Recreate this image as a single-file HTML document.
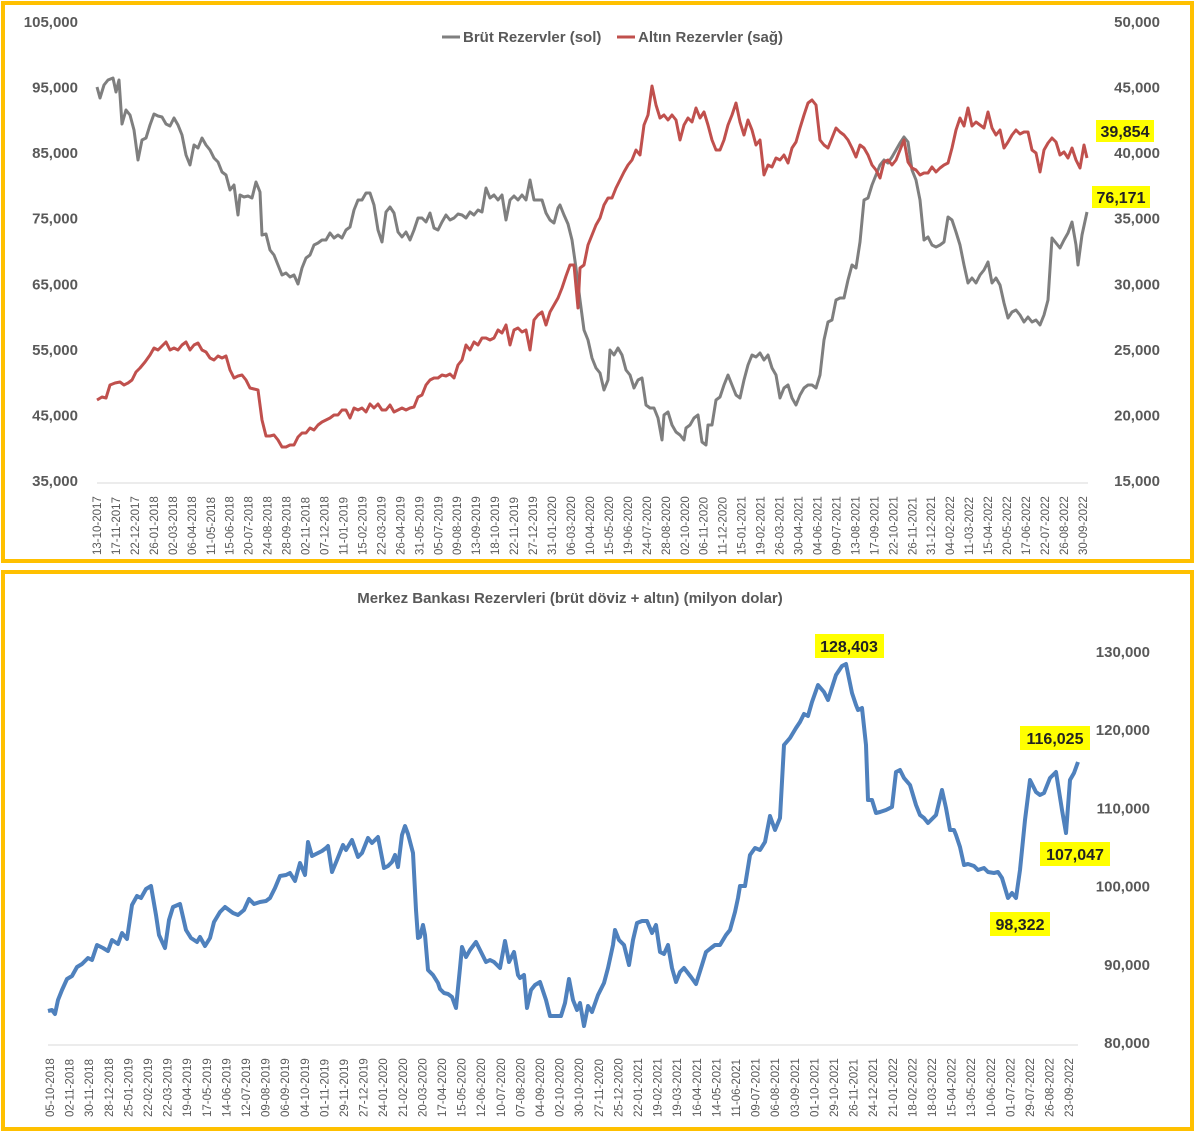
<!DOCTYPE html>
<html><head><meta charset="utf-8">
<style>
html,body{margin:0;padding:0;background:#fff;}
svg{display:block;font-family:"Liberation Sans",sans-serif;}
.t{fill:#595959;font-weight:bold;font-size:15px;}
.d{fill:#595959;font-size:11.5px;}
.h{font-weight:bold;font-size:16px;fill:#222;}
</style></head><body>
<svg id="s" width="1200" height="1136" viewBox="0 0 1200 1136">
<rect x="3" y="3" width="1189" height="558" fill="none" stroke="#FFC000" stroke-width="4"/>
<rect x="3" y="572" width="1189" height="557" fill="none" stroke="#FFC000" stroke-width="4"/>
<line x1="97" y1="483" x2="1088" y2="483" stroke="#d9d9d9" stroke-width="1"/>
<line x1="48" y1="1045" x2="1078" y2="1045" stroke="#d9d9d9" stroke-width="1"/>
<g id="g"></g>
<line x1="442" y1="37" x2="460" y2="37" stroke="#7f7f7f" stroke-width="3"/>
<text x="463" y="42" class="t">Brüt Rezervler (sol)</text>
<line x1="617" y1="37" x2="635" y2="37" stroke="#c0504d" stroke-width="3"/>
<text x="638" y="42" class="t">Altın Rezervler (sağ)</text>
<text x="570" y="603" class="t" text-anchor="middle">Merkez Bankası Rezervleri (brüt döviz + altın) (milyon dolar)</text>
<polyline id="gray" fill="none" stroke="#7f7f7f" stroke-width="3" stroke-linejoin="round"/>
<polyline id="red" fill="none" stroke="#c0504d" stroke-width="3" stroke-linejoin="round"/>
<polyline id="blue" fill="none" stroke="#4f81bd" stroke-width="4" stroke-linejoin="round"/>
<rect x="1096" y="120" width="58" height="22" fill="#ffff00"/><text x="1125" y="137" class="h" text-anchor="middle">39,854</text>
<rect x="1092" y="186" width="58" height="22" fill="#ffff00"/><text x="1121" y="203" class="h" text-anchor="middle">76,171</text>
<rect x="815" y="634" width="69" height="24" fill="#ffff00"/><text x="849" y="652" class="h" text-anchor="middle">128,403</text>
<rect x="1020" y="726" width="70" height="24" fill="#ffff00"/><text x="1055" y="744" class="h" text-anchor="middle">116,025</text>
<rect x="1040" y="842" width="70" height="24" fill="#ffff00"/><text x="1075" y="860" class="h" text-anchor="middle">107,047</text>
<rect x="990" y="912" width="60" height="24" fill="#ffff00"/><text x="1020" y="930" class="h" text-anchor="middle">98,322</text>
</svg>
<script>
(function(){
var ns="http://www.w3.org/2000/svg",g=document.getElementById("g");
function T(x,y,s,c,a,r){var t=document.createElementNS(ns,"text");t.setAttribute("x",x);t.setAttribute("y",y);t.setAttribute("class",c);if(a)t.setAttribute("text-anchor",a);if(r)t.setAttribute("transform","rotate(-90 "+x+" "+y+")");t.textContent=s;g.appendChild(t);}
function f(n){return n.toLocaleString("en-US");}
for(var i=0;i<8;i++){var y=22+i*65.57+5;T(78,y,f(105000-i*10000),"t","end");T(1160,y,f(50000-i*5000),"t","end");}
for(var i=0;i<6;i++){var y=652+i*78.2+5;T(1150,y,f(130000-i*10000),"t","end");}
var topL="13-10-2017,17-11-2017,22-12-2017,26-01-2018,02-03-2018,06-04-2018,11-05-2018,15-06-2018,20-07-2018,24-08-2018,28-09-2018,02-11-2018,07-12-2018,11-01-2019,15-02-2019,22-03-2019,26-04-2019,31-05-2019,05-07-2019,09-08-2019,13-09-2019,18-10-2019,22-11-2019,27-12-2019,31-01-2020,06-03-2020,10-04-2020,15-05-2020,19-06-2020,24-07-2020,28-08-2020,02-10-2020,06-11-2020,11-12-2020,15-01-2021,19-02-2021,26-03-2021,30-04-2021,04-06-2021,09-07-2021,13-08-2021,17-09-2021,22-10-2021,26-11-2021,31-12-2021,04-02-2022,11-03-2022,15-04-2022,20-05-2022,17-06-2022,22-07-2022,26-08-2022,30-09-2022".split(",");
topL.forEach(function(s,i){T(101+i*18.96,555,s,"d","start",1);});
var botL="05-10-2018,02-11-2018,30-11-2018,28-12-2018,25-01-2019,22-02-2019,22-03-2019,19-04-2019,17-05-2019,14-06-2019,12-07-2019,09-08-2019,06-09-2019,04-10-2019,01-11-2019,29-11-2019,27-12-2019,24-01-2020,21-02-2020,20-03-2020,17-04-2020,15-05-2020,12-06-2020,10-07-2020,07-08-2020,04-09-2020,02-10-2020,30-10-2020,27-11-2020,25-12-2020,22-01-2021,19-02-2021,19-03-2021,16-04-2021,14-05-2021,11-06-2021,09-07-2021,06-08-2021,03-09-2021,01-10-2021,29-10-2021,26-11-2021,24-12-2021,21-01-2022,18-02-2022,18-03-2022,15-04-2022,13-05-2022,10-06-2022,01-07-2022,29-07-2022,26-08-2022,23-09-2022".split(",");
botL.forEach(function(s,i){T(54+i*19.6,1117,s,"d","start",1);});
document.getElementById("gray").setAttribute("points","97,87 100,98 104,85 108,80 113,78 116,92 119,80 122,124 126,110 130,115 134,130 138,160 142,140 146,138 150,125 154,114 158,116 162,117 166,124 170,126 174,118 178,125 182,135 186,155 190,165 194,145 198,148 202,138 206,145 210,150 214,158 218,162 222,172 226,175 230,190 234,185 238,215 240,195 244,197 248,196 252,198 256,182 260,192 262,235 266,234 270,250 274,255 278,265 282,275 286,273 290,277 294,275 298,284 302,268 306,258 310,255 314,245 318,243 322,240 326,240 330,233 334,238 338,235 342,238 346,230 350,227 354,210 358,200 362,200 366,193 370,193 374,205 378,230 382,242 386,212 390,207 394,213 398,232 402,237 406,232 410,240 414,230 418,218 422,218 426,222 430,213 434,228 438,230 442,222 446,215 450,220 454,218 458,214 462,215 466,218 470,212 474,215 478,210 482,212 486,188 490,198 494,195 498,200 502,195 506,220 510,200 514,196 518,200 522,195 526,200 530,180 534,200 538,200 542,200 546,213 550,220 554,223 558,208 560,205 564,215 568,224 572,240 576,268 580,300 584,330 588,340 592,358 596,368 600,373 604,390 608,380 610,350 614,355 618,348 622,355 626,370 630,375 634,388 638,380 642,378 646,405 650,408 654,408 658,418 662,440 664,415 668,412 672,425 676,432 680,435 684,440 686,428 690,425 694,418 698,415 702,442 706,445 708,425 712,425 716,400 720,397 724,385 728,375 732,385 736,395 740,398 744,380 748,365 752,355 756,357 760,353 764,360 768,355 772,368 776,375 780,398 784,388 788,385 792,398 796,405 800,395 804,388 808,385 812,385 816,388 820,375 824,340 828,322 832,320 836,300 840,298 844,298 848,280 852,265 856,268 860,242 864,200 868,198 872,185 876,175 880,165 884,160 888,163 892,157 896,150 900,143 904,137 908,142 912,170 916,180 920,200 924,240 928,237 932,245 936,247 940,245 944,242 948,217 952,220 956,232 960,245 964,265 968,283 972,278 976,283 980,275 984,270 988,262 992,283 996,278 1000,285 1004,303 1008,318 1012,312 1016,310 1020,315 1024,322 1028,317 1032,322 1036,320 1040,325 1044,315 1048,300 1052,238 1056,243 1060,248 1064,240 1068,233 1072,222 1076,245 1078,265 1082,235 1087,212");
document.getElementById("red").setAttribute("points","97,400 102,397 106,398 110,385 115,383 120,382 124,385 128,383 132,380 136,372 140,368 145,362 150,355 154,348 158,350 162,346 166,342 170,350 174,348 178,350 182,345 186,342 190,350 194,345 198,343 202,350 206,352 210,358 214,360 218,356 222,358 226,356 230,370 234,378 238,376 242,375 246,380 250,388 254,389 258,390 262,420 266,436 270,436 274,435 278,440 282,447 286,447 290,445 294,445 298,437 302,433 306,433 310,428 314,430 318,425 322,422 326,420 330,418 334,415 338,415 342,410 346,410 350,418 354,408 358,410 362,408 366,412 370,404 374,408 378,404 382,410 386,410 390,405 394,412 398,410 402,408 406,410 410,408 414,407 418,397 422,395 426,385 430,380 434,378 438,378 442,375 446,376 450,374 454,378 458,365 462,360 466,345 470,350 474,342 478,345 482,338 486,338 490,340 494,338 498,330 502,333 506,325 510,345 514,330 518,328 522,332 526,330 530,350 534,320 538,315 542,312 546,325 550,312 554,305 558,298 562,288 566,276 570,265 574,265 578,308 580,268 584,265 588,245 592,235 596,225 600,218 604,205 608,198 612,198 616,188 620,180 624,172 628,165 632,160 636,150 640,155 644,125 648,115 652,86 656,105 660,118 664,115 668,120 672,115 676,120 680,140 684,125 688,118 692,122 696,108 700,118 704,112 708,125 712,140 716,150 720,150 724,140 728,125 732,115 736,103 740,122 744,135 748,120 752,130 756,145 760,140 764,175 768,165 772,167 776,158 780,160 784,155 788,163 792,148 796,142 800,128 804,115 808,103 812,100 816,105 820,140 824,145 828,148 832,138 836,128 840,132 844,135 848,140 852,148 856,157 860,145 864,148 868,155 872,165 876,170 880,178 884,162 888,160 892,165 896,160 900,150 904,140 908,162 912,168 916,170 920,175 924,173 928,173 932,167 936,172 940,168 944,165 948,163 952,148 956,130 960,118 964,126 968,108 972,126 976,122 980,125 984,128 988,112 992,128 996,135 1000,130 1004,148 1008,142 1012,135 1016,130 1020,134 1024,132 1028,132 1032,150 1036,153 1040,172 1044,150 1048,143 1052,138 1056,142 1060,155 1064,152 1068,158 1072,148 1076,160 1080,168 1084,145 1087,158");
document.getElementById("blue").setAttribute("points","48,1011 52,1010 55,1014 58,1000 62,990 67,979 72,976 77,967 82,964 88,958 92,960 97,945 103,948 108,951 112,940 118,944 122,933 127,939 132,905 137,896 141,898 146,889 151,886 156,915 159,935 165,948 169,920 173,907 180,904 186,930 191,938 197,942 200,937 205,946 210,938 214,922 220,912 225,907 233,913 238,915 244,910 249,899 254,904 260,902 266,901 270,898 275,888 280,876 286,875 290,873 295,881 300,863 305,875 308,842 312,856 322,851 326,848 328,846 332,872 337,860 343,845 346,850 352,840 358,857 362,853 368,838 372,843 378,837 384,868 388,866 392,862 395,855 398,867 402,835 405,826 408,834 413,853 416,910 418,938 420,937 423,925 425,935 428,970 433,975 438,983 440,989 444,993 448,994 452,997 456,1008 460,968 462,947 466,957 470,950 476,942 480,950 486,962 490,960 494,962 500,968 505,941 509,962 514,952 518,975 520,978 524,975 527,1008 531,990 535,985 540,982 546,1000 550,1016 555,1016 561,1016 565,1003 569,979 573,1000 577,1010 580,1003 584,1026 588,1006 592,1012 598,995 604,983 608,968 613,945 615,930 619,940 624,945 629,965 633,940 637,923 642,921 647,921 652,933 656,925 660,952 664,954 668,945 672,968 676,982 680,972 684,968 691,977 696,984 702,965 706,952 711,948 715,945 720,945 726,935 730,930 735,912 738,898 740,886 745,886 750,855 755,848 760,850 765,842 770,816 775,830 780,818 784,745 790,738 796,728 800,722 804,714 808,716 812,702 818,685 824,692 828,700 836,675 842,666 846,664 852,693 856,705 858,710 862,708 866,745 868,800 872,800 876,813 880,812 886,810 892,807 896,772 900,770 904,778 910,785 916,805 920,815 924,818 928,823 936,815 942,790 946,808 950,830 954,830 956,835 960,847 964,865 968,864 974,866 978,870 984,868 988,872 994,873 998,872 1002,878 1008,898 1012,893 1016,898 1020,870 1025,820 1030,780 1036,792 1040,795 1044,793 1050,778 1056,772 1062,810 1066,833 1070,780 1074,773 1078,762");
})();
</script>
</body></html>
